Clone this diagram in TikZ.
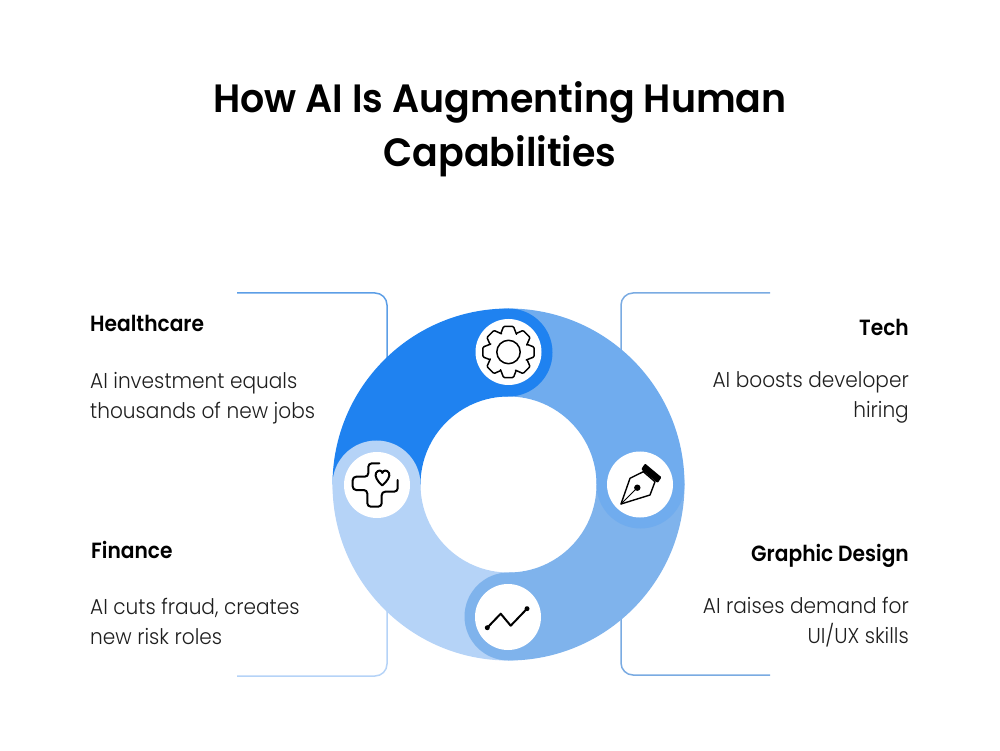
\documentclass[tikz,border=0pt]{standalone}
\usepackage{fontspec}
\setmainfont{Poppins Light}[FakeStretch=0.935]
\newfontfamily\headfont{Poppins SemiBold}[FakeStretch=0.918]
\newfontfamily\titlefont{Poppins SemiBold}[FakeStretch=0.96]
\definecolor{ringdark}{HTML}{1F82F0}
\definecolor{ringmid}{HTML}{70ACEE}
\definecolor{ringlow}{HTML}{7FB3EC}
\definecolor{ringlight}{HTML}{B5D3F7}
\definecolor{linedark}{HTML}{5C9EE6}
\definecolor{lineright}{HTML}{7AABE2}
\definecolor{inktext}{HTML}{1E1E1E}
\tikzset{
  head/.style={font=\headfont\fontsize{22}{26}\selectfont, text=black, inner sep=0pt},
  body/.style={font=\fontsize{21.5}{30}\selectfont, text=inktext, inner sep=0pt},
  bracket/.style={line width=1.5pt, rounded corners=12pt},
  iconspot/.style={circle, fill=white, minimum size=66pt, inner sep=0pt},
  iconline/.style={line width=2pt, line cap=round, line join=round, black}
}
\begin{document}
\begin{tikzpicture}[x=1pt,y=1pt]
  \useasboundingbox (0,0) rectangle (1000,750);
  % title
  \node[font=\titlefont\fontsize{39.5}{54}\selectfont, align=center, inner sep=0pt] (title) at (500,620.5) {How AI Is Augmenting Human\\Capabilities};
  % brackets behind the ring
  \coordinate (hcstart) at (237,457);
  \coordinate (hcbend) at (387,457);
  \coordinate (hcend) at (387,390);
  \coordinate (fnstart) at (237,74);
  \coordinate (fnbend) at (387,74);
  \coordinate (fnend) at (387,140);
  \coordinate (tcstart) at (770,457);
  \coordinate (tcbend) at (621,457);
  \coordinate (tcend) at (621,390);
  \coordinate (gdstart) at (770,75);
  \coordinate (gdbend) at (621,75);
  \coordinate (gdend) at (621,140);
  \draw[bracket, linedark] (hcstart) -- (hcbend) -- (hcend);
  \draw[bracket, ringlight] (fnstart) -- (fnbend) -- (fnend);
  \draw[bracket, lineright] (tcstart) -- (tcbend) -- (tcend);
  \draw[bracket, lineright] (gdstart) -- (gdbend) -- (gdend);
  % ring
  \coordinate (ringc) at (508.5,265.5);
  \foreach \a/\c in {90/ringdark,0/ringmid,270/ringlow,180/ringlight}
    \fill[\c] (ringc) ++(\a:176) arc[start angle=\a, delta angle=90, radius=176pt] -- ++(\a+90:-88) arc[start angle=\a+90, delta angle=-90, radius=88pt] -- cycle;
  \foreach \a/\c in {90/ringdark,0/ringmid,270/ringlow,180/ringlight}
    \fill[\c] (ringc) ++(\a:132) circle[radius=44pt];
  % icon spots
  \node[iconspot] (gear) at (508.5,398) {};
  \node[iconspot] (pen) at (640,265.5) {};
  \node[iconspot] (chart) at (508,133) {};
  \node[iconspot] (plus) at (377,265) {};
  % gear
  \draw[iconline, line width=1.5pt, rounded corners=1pt, shift={(gear.center)}]
    \foreach \a in {0,45,...,315} {
      (\a+90-24:19.5) -- (\a+90-11:26) -- (\a+90+11:26) -- (\a+90+24:19.5) -- (\a+90+45-24:19.5)
    };
  \draw[iconline, line width=1.5pt] (gear.center) circle[radius=11.7pt];
  % pen
  \begin{scope}[shift={(pen.center)}]
    \draw[iconline, line width=1.4pt] (-19,-19.5) -- (-10,6.2) -- (3.3,12.8) -- (15,2.8) -- (10,-10.5) -- cycle;
    \draw[iconline, line width=1pt] (-19,-19.5) -- (-2.7,-3.2);
    \fill[black] (-2.7,-3.2) circle[radius=3.2pt];
    \fill[black, rounded corners=1pt] (5,21) -- (21.5,7.2) -- (17.7,1.5) -- (1.2,15.2) -- cycle;
  \end{scope}
  % chart
  \begin{scope}[shift={(chart.center)}]
    \draw[iconline, line width=2pt] (-20.7,-10.7) -- (-7.3,3.3) -- (2.7,-8.7) -- (19,8.3);
    \fill[black] (-20.7,-10.7) circle[radius=2.5pt] (19,8.3) circle[radius=2.5pt];
  \end{scope}
  % plus with heart
  \begin{scope}[shift={(plus.center)}]
    \draw[iconline, rounded corners=3.5pt] (2.3,21.7) -- (-8.7,21.7) -- (-8.7,8.3) -- (-24.3,8.3) -- (-24.3,-5) -- (-9.7,-5) -- (-9.7,-21.7) -- (4.7,-21.7) -- (4.7,-6.7) -- (20.7,-6.7) -- (20.7,5);
    \draw[iconline] (5.3,-0.5) .. controls (0,4) and (-2.5,9) .. (-1,12) .. controls (1,15.5) and (5,15) .. (5.3,12) .. controls (6,15) and (10,15.5) .. (12,12) .. controls (13.5,9) and (10.5,4) .. (5.3,-0.5);
  \end{scope}
  % labels
  \node[head, anchor=base west] (hchead) at (90,418) {Healthcare};
  \node[body, anchor=north west, align=left] (hcbody) at (90,378) {AI investment equals\\thousands of new jobs};
  \node[head, anchor=base east] (tchead) at (909,414) {Tech};
  \node[body, anchor=north east, align=right] (tcbody) at (909,379) {AI boosts developer\\hiring};
  \node[head, anchor=base west] (fnhead) at (91,192) {Finance};
  \node[body, anchor=north west, align=left] (fnbody) at (90,152) {AI cuts fraud, creates\\new risk roles};
  \node[head, anchor=base east] (gdhead) at (909,189) {Graphic Design};
  \node[body, anchor=north east, align=right] (gdbody) at (909,153) {AI raises demand for\\UI/UX skills};
\end{tikzpicture}
\end{document}
